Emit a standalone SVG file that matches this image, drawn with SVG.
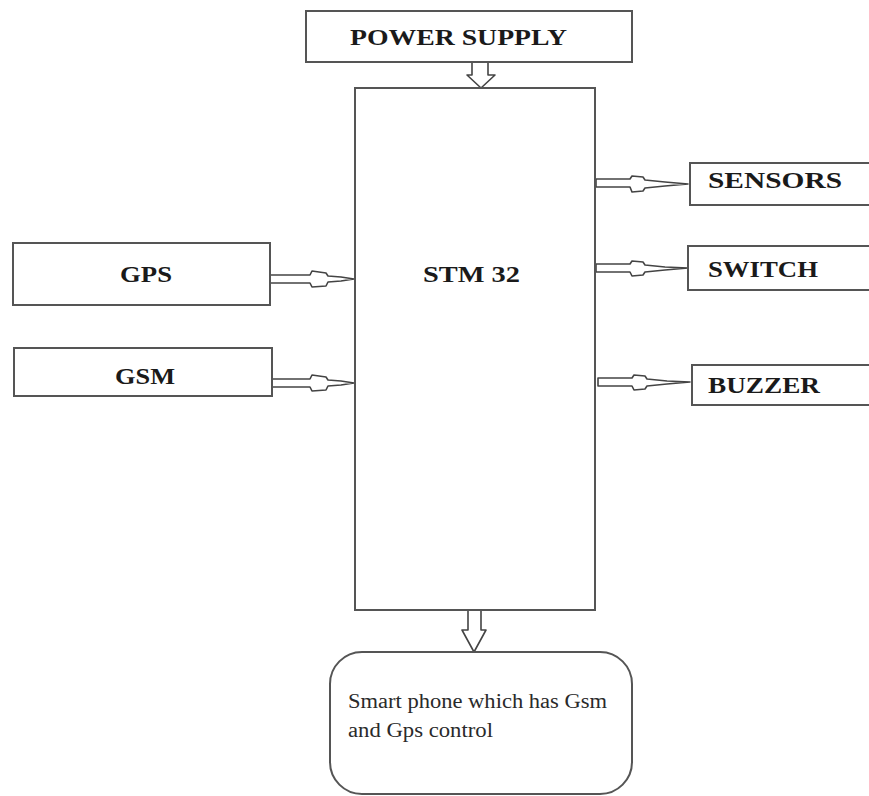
<svg xmlns="http://www.w3.org/2000/svg" width="869" height="796" viewBox="0 0 869 796">
<style>
.box{fill:#fff;stroke:#555;stroke-width:2}
.arr{fill:#fff;stroke:#444;stroke-width:1.6;stroke-linejoin:round}
.lbl{font-family:'Liberation Serif','DejaVu Serif',serif;font-weight:bold;font-size:23px;fill:#1a1a1a}
.txt{font-family:'Liberation Serif','DejaVu Serif',serif;font-size:20px;fill:#2a2a2a}
</style>
<rect width="869" height="796" fill="#fff"/>
<g id="connectors">
<polygon class="arr" points="472,62 488,62 488,75 495,75 481,88 467,75 472,75"/>
<polygon class="arr" points="468,610 481,610 481,630 486,630 474,652 462,630 468,630"/>
<polygon class="arr" points="270,275 310,275 312,271 326,273 328,276 341,277 354,279 341,281 328,282 326,286 312,287 310,283 270,283"/>
<polygon class="arr" points="272,379 310,379 312,375 326,377 328,380 341,381 354,383 341,385 328,386 326,390 312,391 310,387 272,387"/>
<polygon class="arr" points="596,179 630,179 632,176 643,177 645,180 665,182 688,184 665,186 645,188 643,191 632,192 630,187 596,187"/>
<polygon class="arr" points="596,264 630,264 632,261 643,262 645,265 665,267 688,268 665,270 645,272 643,275 632,276 630,272 596,272"/>
<polygon class="arr" points="598,378 632,378 634,375 645,376 647,379 667,381 690,382 667,384 647,386 645,389 634,390 632,386 598,386"/>
</g>
<g id="power">
<rect class="box" x="306" y="11" width="326" height="51"/>
<text class="lbl" x="350" y="45" textLength="217" lengthAdjust="spacingAndGlyphs">POWER SUPPLY</text>
</g>
<g id="stm32">
<rect class="box" x="355" y="88" width="240" height="522"/>
<text class="lbl" x="423" y="282" textLength="97" lengthAdjust="spacingAndGlyphs">STM 32</text>
</g>
<g id="gps">
<rect class="box" x="13" y="243" width="257" height="62"/>
<text class="lbl" x="120" y="282" textLength="52" lengthAdjust="spacingAndGlyphs">GPS</text>
</g>
<g id="gsm">
<rect class="box" x="14" y="348" width="258" height="48"/>
<text class="lbl" x="115" y="384" textLength="60" lengthAdjust="spacingAndGlyphs">GSM</text>
</g>
<g id="sensors">
<rect class="box" x="690" y="163" width="190" height="42"/>
<text class="lbl" x="708" y="188" textLength="134" lengthAdjust="spacingAndGlyphs">SENSORS</text>
</g>
<g id="switch">
<rect class="box" x="688" y="246" width="192" height="44"/>
<text class="lbl" x="708" y="277" textLength="110" lengthAdjust="spacingAndGlyphs">SWITCH</text>
</g>
<g id="buzzer">
<rect class="box" x="692" y="365" width="188" height="40"/>
<text class="lbl" x="708" y="393" textLength="112" lengthAdjust="spacingAndGlyphs">BUZZER</text>
</g>
<g id="smartphone">
<rect class="box" x="330" y="652" width="302" height="142" rx="32" ry="32"/>
<text class="txt" x="348" y="708" textLength="259" lengthAdjust="spacingAndGlyphs">Smart phone which has Gsm</text>
<text class="txt" x="348" y="737" textLength="145" lengthAdjust="spacingAndGlyphs">and Gps control</text>
</g>
</svg>
